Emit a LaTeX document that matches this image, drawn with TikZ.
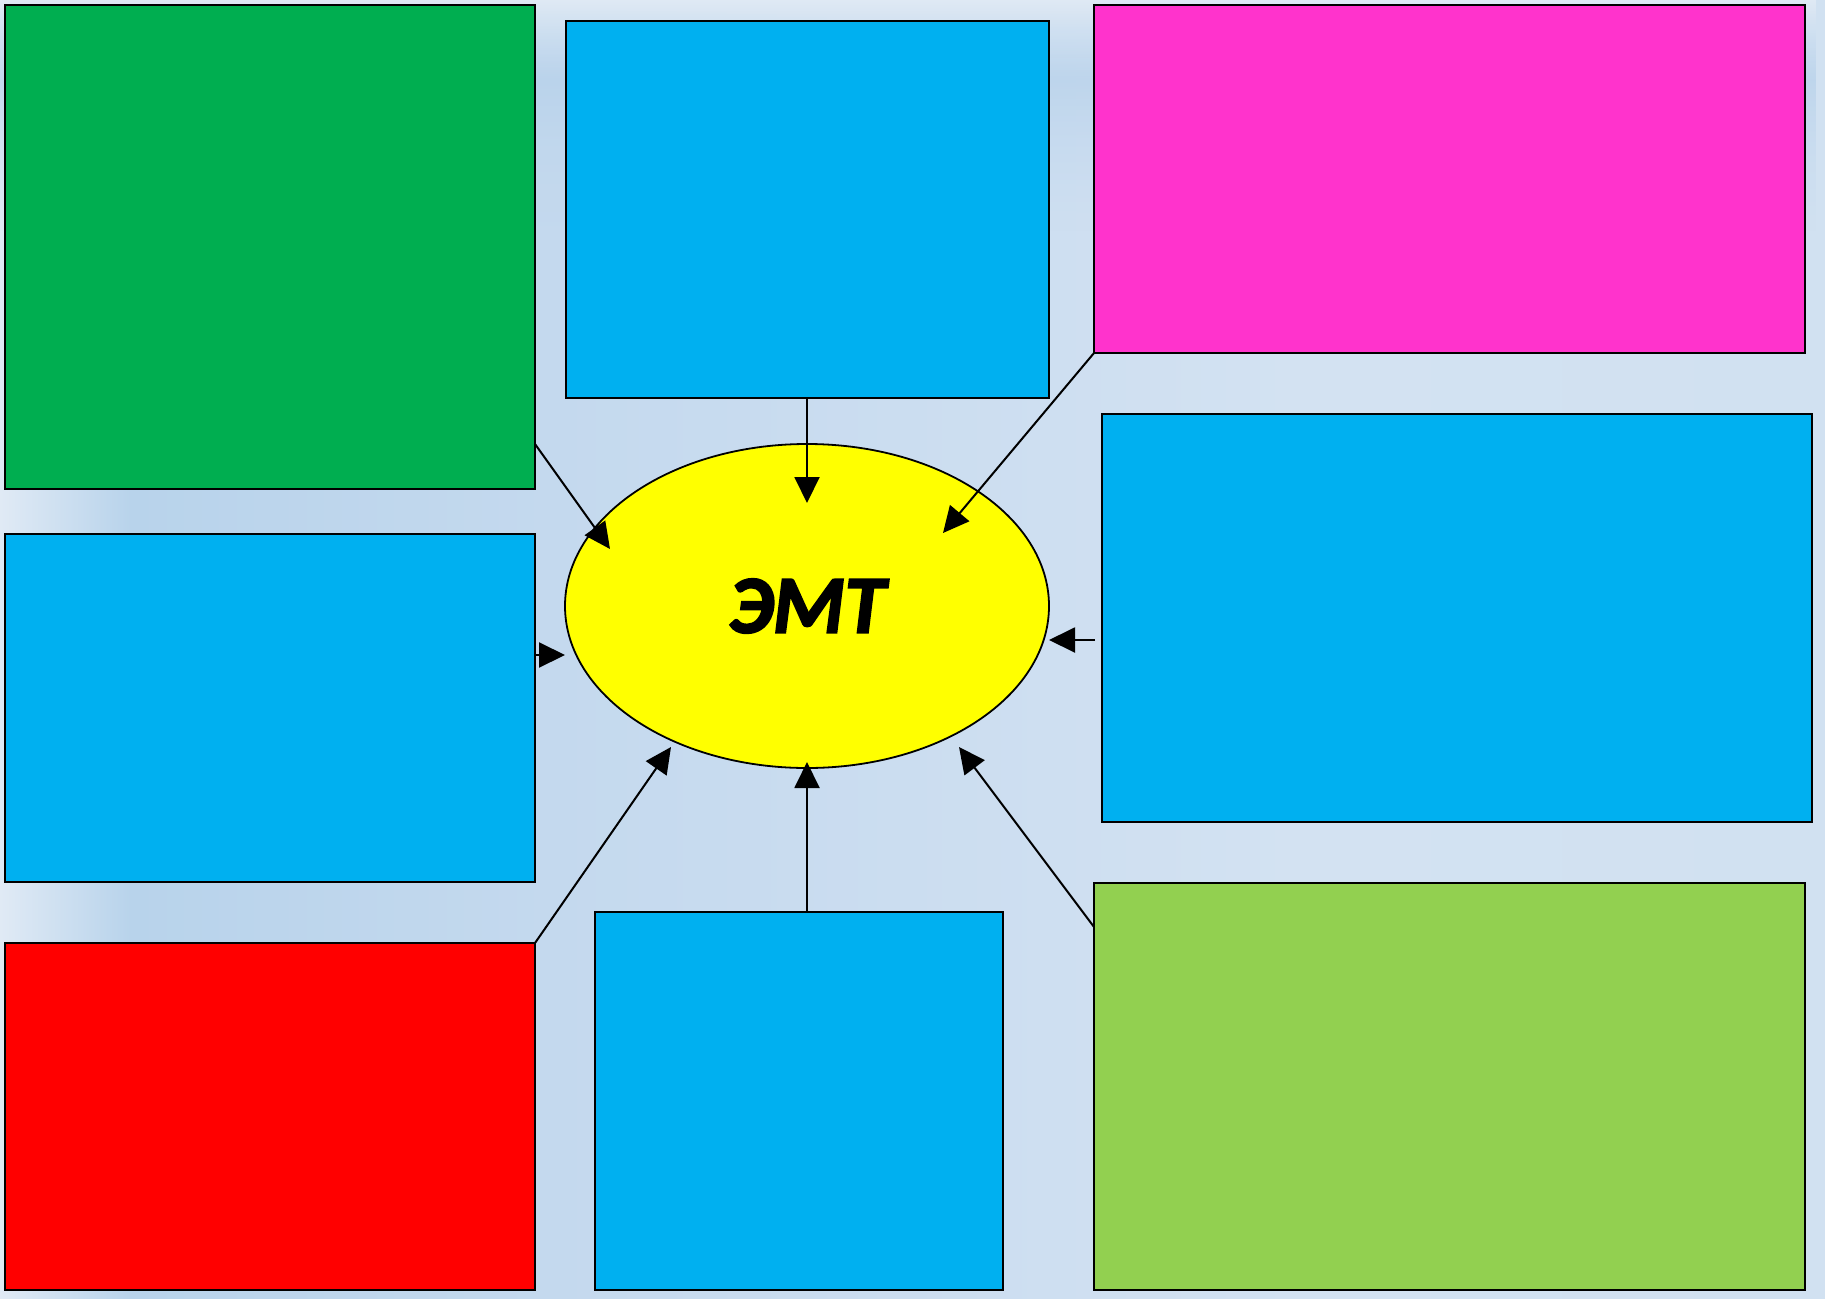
\documentclass[tikz,border=0pt]{standalone}
\usepackage{fontspec}
\newfontfamily\carlitobi{Carlito Bold Italic}[FakeBold=2.5]
\usetikzlibrary{arrows.meta,calc,shapes.geometric,fadings}

% box fills
\definecolor{cgreen}{HTML}{00AE50}
\definecolor{cblue}{HTML}{00B0F0}
\definecolor{cmagenta}{HTML}{FF33CC}
\definecolor{cred}{HTML}{FF0000}
\definecolor{clime}{HTML}{92D050}
\definecolor{cyellow}{HTML}{FFFF00}

% background tones
\definecolor{bgA}{HTML}{E0EAF5}
\definecolor{bgB}{HTML}{B8D3EB}
\definecolor{bgC}{HTML}{C4D9EE}
\definecolor{bgD}{HTML}{CBDDF0}
\definecolor{bgE}{HTML}{D3E2F2}
\definecolor{bgF}{HTML}{D1E1F1}
\definecolor{bgDark}{HTML}{B5D0EA}

\pgfdeclarehorizontalshading{bgacross}{100bp}{color(0bp)=(bgA); color(25bp)=(bgA); color(28.6bp)=(bgB); color(40.1bp)=(bgC); color(49.7bp)=(bgD); color(60.6bp)=(bgE); color(75bp)=(bgF); color(100bp)=(bgF)}
\pgfdeclareverticalshading{bgtop}{100bp}{color(0bp)=(bgC); color(25bp)=(bgC); color(57.6bp)=(bgDark); color(75bp)=(bgA); color(100bp)=(bgA)}
\tikzfading[name=fadedown, top color=transparent!0, bottom color=transparent!100]

\begin{document}
\begin{tikzpicture}[x=1pt, y=-1pt,
  box/.style={draw=black, line width=1.8pt, rectangle, inner sep=0pt, outer sep=0pt, anchor=north west},
  hub/.style={draw=black, line width=1.8pt, ellipse, fill=cyellow, inner sep=0pt, outer sep=0pt,
    minimum width=484pt, minimum height=324pt},
  arr/.style={draw=black, line width=2pt, -{Triangle[length=26pt,width=25pt]}}]

% backdrop
\useasboundingbox (0,0) rectangle (1825,1298);
\shade[shading=bgacross] (0,0) rectangle (1825,1298);
\shade[shading=bgtop, path fading=fadedown] (0,0) rectangle (1825,230);

% boxes
\node[box, fill=cgreen,   minimum width=530pt, minimum height=484pt] (green)   at (5,5) {};
\node[box, fill=cblue,    minimum width=483pt, minimum height=377pt] (topblue) at (566,21) {};
\node[box, fill=cmagenta, minimum width=711pt, minimum height=348pt] (magenta) at (1094,5) {};
\node[box, fill=cblue,    minimum width=710pt, minimum height=408pt] (rblue)   at (1102,414) {};
\node[box, fill=cblue,    minimum width=530pt, minimum height=348pt] (lblue)   at (5,534) {};
\node[box, fill=cred,     minimum width=530pt, minimum height=347pt] (red)     at (5,943) {};
\node[box, fill=cblue,    minimum width=408pt, minimum height=378pt] (bblue)   at (595,912) {};
\node[box, fill=clime,    minimum width=711pt, minimum height=407pt] (lgreen)  at (1094,883) {};

% central ellipse
\node[hub] (emt) at (807,606) {\carlitobi\fontsize{82}{98}\selectfont ЭМТ};

% arrow tips around the ellipse
\coordinate (t1) at (610,549);
\coordinate (t2) at (807,503);
\coordinate (t3) at (943,533);
\coordinate (t4) at (1049,640);
\coordinate (t5) at (565,655);
\coordinate (t6) at (671,747);
\coordinate (t7) at (807,762);
\coordinate (t8) at (959,747);

% connectors
\draw[arr] ($(green.north east)+(0,439)$) -- (t1);
\draw[arr] (topblue.south -| t2) -- (t2);
\draw[arr] (magenta.south west) -- (t3);
\draw[arr, shorten <=7pt] ($(rblue.north west)+(0,226)$) -- (t4);
\draw[arr] ($(lblue.north east)+(0,121)$) -- (t5);
\draw[arr] (red.north east) -- (t6);
\draw[arr] (bblue.north -| t7) -- (t7);
\draw[arr] ($(lgreen.north west)+(0,44)$) -- (t8);
\end{tikzpicture}
\end{document}
